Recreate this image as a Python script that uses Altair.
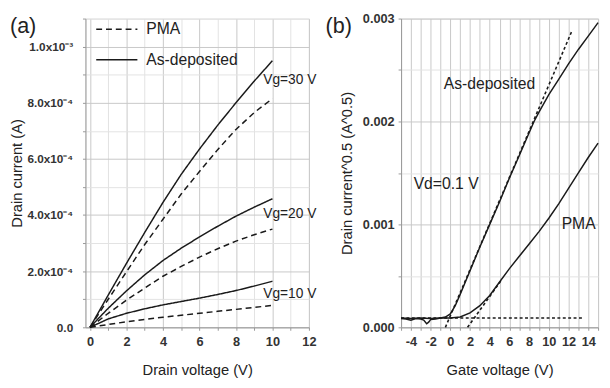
import json
import altair as alt
import pandas as pd

# ---------------- Panel (a): output characteristics ----------------
vd = [0, 1, 2, 3, 4, 5, 6, 7, 8, 9, 10]
# drain current, units of 1e-4 A
as_vg10 = [0, 0.3, 0.5, 0.66, 0.8, 0.92, 1.04, 1.17, 1.31, 1.47, 1.64]
as_vg20 = [0, 0.68, 1.3, 1.87, 2.38, 2.82, 3.22, 3.6, 3.96, 4.28, 4.58]
as_vg30 = [0, 1.15, 2.28, 3.38, 4.45, 5.45, 6.35, 7.2, 8.0, 8.77, 9.5]
pma_vg10 = [0, 0.1, 0.2, 0.28, 0.36, 0.43, 0.5, 0.57, 0.64, 0.71, 0.78]
pma_vg20 = [0, 0.5, 0.97, 1.4, 1.82, 2.17, 2.5, 2.8, 3.07, 3.3, 3.5]
pma_vg30 = [0, 1.0, 1.98, 2.95, 3.85, 4.75, 5.55, 6.33, 7.05, 7.65, 8.15]

series_names = ["PMA", "As-deposited"]

ann_a_text = ["Vg=30 V", "Vg=20 V", "Vg=10 V"]
ann_a_x = [9.5, 9.5, 9.5]
ann_a_y = [8.8, 4.03, 1.2]  # units of 1e-4 A

xa_ticks = list(range(0, 13))
xa_labels = ["0", "", "2", "", "4", "", "6", "", "8", "", "10", "", "12"]
ya_ticks = [i * 1e-4 for i in range(0, 12)]
ya_labels = ["0.0", "", "2.0x10\u207b\u2074", "", "4.0x10\u207b\u2074", "",
             "6.0x10\u207b\u2074", "", "8.0x10\u207b\u2074", "",
             "1.0x10\u207b\u00b3", ""]

# ---------------- Panel (b): transfer characteristics ----------------
vg_as = [-5, -4.5, -4, -3.5, -3, -2.7, -2.4, -2.2, -2, -1.5, -1, -0.5, 0, 0.5, 1,
         2, 3, 4, 5, 6, 7, 8, 8.5, 9, 10, 11, 12, 13, 14, 15]
# sqrt(drain current), units of 1e-5 A^0.5
sq_as = [8.5, 8, 7, 8.5, 8, 7, 3.5, 5, 7.5, 8, 9, 10, 13, 21, 32,
         55, 78, 100, 122, 145, 167, 189, 200, 209, 226, 241, 256, 270, 283, 296]
vg_pma = [-5, -4, -3, -2, -1, 0, 1, 2, 3, 4, 5, 6, 7, 8, 9, 10, 11, 12, 13, 14, 15]
sq_pma = [9, 8.5, 9, 8.5, 9, 9, 10, 14, 21, 31, 44, 57, 69, 81, 93, 106, 120, 135,
          150, 165, 179]

fit_as_x = [-0.5, 12.3]
fit_as_y = [0, 287]
fit_pma_x = [1.75, 5.2]
fit_pma_y = [0, 46]
base_x = [-5, 13.4]
base_y = [9, 9]

ann_b_text = ["As-deposited", "Vd=0.1 V", "PMA"]
ann_b_x = [-0.67, -3.72, 11.3]
ann_b_y = [236, 139, 100]  # units of 1e-5

xb_ticks = list(range(-5, 16))
xb_labels = ["", "-4", "", "-2", "", "0", "", "2", "", "4", "", "6", "", "8", "",
             "10", "", "12", "", "14", ""]
yb_ticks = [i * 5e-4 for i in range(0, 7)]
yb_labels = ["0.000", "", "0.001", "", "0.002", "", "0.003"]

# ---------------- build tables ----------------
rows = []
curves = [("As-deposited", "10", as_vg10), ("As-deposited", "20", as_vg20),
          ("As-deposited", "30", as_vg30), ("PMA", "10", pma_vg10),
          ("PMA", "20", pma_vg20), ("PMA", "30", pma_vg30)]
for name, vg, vals in curves:
    for x, y in zip(vd, vals):
        rows.append({"vd": x, "id": y * 1e-4, "sample": name, "curve": name + vg})
df_a = pd.DataFrame(rows)
df_ann_a = pd.DataFrame({"x": ann_a_x, "y": [v * 1e-4 for v in ann_a_y], "t": ann_a_text})

df_b_as = pd.DataFrame({"vg": vg_as, "s": [v * 1e-5 for v in sq_as]})
df_b_pma = pd.DataFrame({"vg": vg_pma, "s": [v * 1e-5 for v in sq_pma]})
fit_rows = []
for k, (xs, ys) in enumerate([(fit_as_x, fit_as_y), (fit_pma_x, fit_pma_y), (base_x, base_y)]):
    for x, y in zip(xs, ys):
        fit_rows.append({"vg": x, "s": y * 1e-5, "fit": str(k)})
df_fit = pd.DataFrame(fit_rows)
df_ann_b = pd.DataFrame({"x": ann_b_x, "y": [v * 1e-5 for v in ann_b_y], "t": ann_b_text})


def lexpr(labels, mult, offset):
    return "%s[round(datum.value*%s)+%d]" % (json.dumps(labels, ensure_ascii=False), mult, offset)


FONT = "Liberation Sans"
LINE = "#1a1a1a"
GRID_MAJ = "#c8c8c8"
GRID_MIN = "#e2e2e2"


def axis(values, labels, mult, offset, title, grid_color, title_pad, label_pad, lsize=13):
    return alt.Axis(
        values=values, tickCount=100, labelExpr=lexpr(labels, mult, offset), title=title,
        labelOverlap=False, labelFlush=False, labelFont=FONT, labelFontSize=lsize,
        labelFontWeight="bold", labelColor="#333", titleFont=FONT, titleFontSize=15,
        titleFontWeight="normal", titleColor="#222", grid=True, gridColor=grid_color,
        domainColor="#999", tickColor="#999", tickSize=3, labelPadding=label_pad,
        titlePadding=title_pad,
    )


xa_grid = {"condition": {"test": "round(datum.value) % 2 === 0", "value": GRID_MAJ},
           "value": GRID_MIN}
ya_grid = {"condition": {"test": "round(datum.value*10000) % 2 === 0", "value": GRID_MAJ},
           "value": GRID_MIN}
yb_grid = {"condition": {"test": "round(datum.value*2000) % 2 === 0", "value": GRID_MAJ},
           "value": GRID_MIN}

xa = alt.X("vd:Q", scale=alt.Scale(domain=[-0.25, 12], nice=False, zero=False),
           axis=axis(xa_ticks, xa_labels, 1, 0, "Drain voltage (V)", xa_grid, 14, 6))
ya = alt.Y("id:Q", scale=alt.Scale(domain=[0, 1.1e-3], nice=False),
           axis=axis(ya_ticks, ya_labels, 10000, 0, "Drain current (A)", ya_grid, 3, 10, 12))

lines_a = alt.Chart(df_a).mark_line(color=LINE, strokeWidth=1.5).encode(
    x=xa, y=ya, detail="curve:N",
    strokeDash=alt.StrokeDash(
        "sample:N",
        scale=alt.Scale(domain=series_names, range=[[6, 4], [1, 0]]),
        legend=alt.Legend(title=None, orient="none", legendX=10, legendY=3,
                          symbolType="stroke", symbolSize=1764, symbolStrokeWidth=1.5,
                          symbolStrokeColor=LINE, clipHeight=16, rowPadding=15,
                          labelFont=FONT, labelFontSize=16, labelColor="#222",
                          labelOffset=8),
    ),
)
text_a = alt.Chart(df_ann_a).mark_text(font=FONT, fontSize=14, align="left",
                                        baseline="middle", color="#222").encode(
    x="x:Q", y="y:Q", text="t:N")
tag_a = alt.Chart(pd.DataFrame({"t": ["(a)"]})).mark_text(
    font=FONT, fontSize=22, align="left", baseline="middle", color="#222").encode(
    x=alt.value(-77), y=alt.value(8), text="t:N")

panel_a = alt.layer(lines_a, text_a, tag_a).properties(width=228, height=315)

xb = alt.X("vg:Q", scale=alt.Scale(domain=[-5, 15], nice=False, zero=False),
           axis=axis(xb_ticks, xb_labels, 1, 5, "Gate voltage (V)", GRID_MAJ, 14, 6))
yb = alt.Y("s:Q", scale=alt.Scale(domain=[0, 0.003], nice=False),
           axis=axis(yb_ticks, yb_labels, 2000, 0, "Drain current^0.5 (A^0.5)", yb_grid, 8, 4))

l_as = alt.Chart(df_b_as).mark_line(color=LINE, strokeWidth=1.5).encode(x=xb, y=yb)
l_pma = alt.Chart(df_b_pma).mark_line(color=LINE, strokeWidth=1.5).encode(x="vg:Q", y="s:Q")
l_fit = alt.Chart(df_fit).mark_line(color=LINE, strokeWidth=1.6, strokeDash=[3, 2.5]).encode(
    x="vg:Q", y="s:Q", detail="fit:N")
text_b = alt.Chart(df_ann_b).mark_text(font=FONT, fontSize=16, align="left",
                                        baseline="middle", color="#222").encode(
    x="x:Q", y="y:Q", text="t:N")
tag_b = alt.Chart(pd.DataFrame({"t": ["(b)"]})).mark_text(
    font=FONT, fontSize=22, align="left", baseline="middle", color="#222").encode(
    x=alt.value(-77), y=alt.value(8), text="t:N")

panel_b = alt.layer(l_as, l_fit, l_pma, text_b, tag_b).properties(width=201, height=315)

chart = alt.hconcat(panel_a, panel_b, spacing=7).properties(
    padding={"left": 0, "top": 0, "right": 0, "bottom": 0}
).configure_view(stroke=None).configure(background="white")

chart.save("out.html", embed_options={"renderer": "svg", "actions": False})
